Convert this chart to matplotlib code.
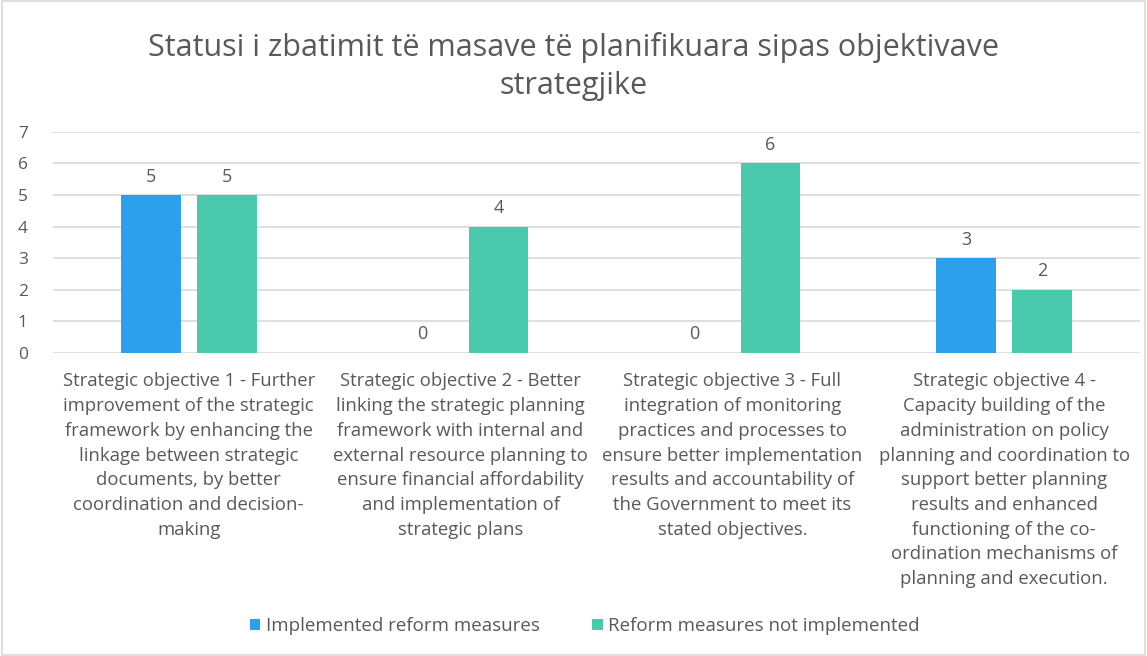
import matplotlib.pyplot as plt
import matplotlib.patches as mpatches
import numpy as np

categories = [
    "Strategic objective 1 - Further\nimprovement of the strategic\nframework by enhancing the\nlinkage between strategic\ndocuments, by better\ncoordination and decision-\nmaking",
    "Strategic objective 2 - Better\nlinking the strategic planning\nframework with internal and\nexternal resource planning to\nensure financial affordability\nand implementation of\nstrategic plans",
    "Strategic objective 3 - Full\nintegration of monitoring\npractices and processes to\nensure better implementation\nresults and accountability of\nthe Government to meet its\nstated objectives.",
    "Strategic objective 4 -\nCapacity building of the\nadministration on policy\nplanning and coordination to\nsupport better planning\nresults and enhanced\nfunctioning of the co-\nordination mechanisms of\nplanning and execution.",
]
implemented = [5, 0, 0, 3]
not_implemented = [5, 4, 6, 2]
series_names = ["Implemented reform measures", "Reform measures not implemented"]
title = "Statusi i zbatimit të masave të planifikuara sipas objektivave\nstrategjike"

def main():
    plt.rcParams['font.family'] = ['Open Sans', 'DejaVu Sans']
    txt = '#595959'
    blue = '#2E9FEA'
    green = '#4BC9AD'

    fig = plt.figure(figsize=(11.47, 6.56), dpi=100)
    fig.patches.append(mpatches.Rectangle((0.002, 0.002), 0.996, 0.996, transform=fig.transFigure,
                                          fill=False, edgecolor='#D9D9D9', lw=1.2))
    ax = fig.add_axes([0.046, 0.462, 0.948, 0.337])

    x = np.arange(len(categories))
    w = 0.22
    off = 0.14
    b1 = ax.bar(x - off, implemented, w, color=blue, label=series_names[0])
    b2 = ax.bar(x + off, not_implemented, w, color=green, label=series_names[1])
    for bars in (b1, b2):
        for r in bars:
            ax.text(r.get_x() + r.get_width() / 2, r.get_height() + 0.3, str(int(r.get_height())),
                    ha='center', va='bottom', fontsize=13, color=txt)

    ax.set_xlim(-0.5, 3.5)
    ax.set_ylim(0, 7)
    ax.set_yticks(range(0, 8))
    ax.yaxis.grid(True, color='#D9D9D9', lw=1.2)
    ax.set_axisbelow(True)
    for s in ax.spines.values():
        s.set_visible(False)
    ax.tick_params(axis='y', length=0, labelsize=12.5, labelcolor=txt, pad=18)
    ax.tick_params(axis='x', length=0)
    ax.set_xticks(x)
    ax.set_xticklabels(categories, fontsize=13.3, color=txt, linespacing=1.48)
    for lab in ax.get_xticklabels():
        lab.set_horizontalalignment('center')
    ax.tick_params(axis='x', pad=14)

    fig.text(0.5, 0.899, title, ha='center', va='center', fontsize=22, color=txt, linespacing=1.33)

    fig.legend(handles=[b1, b2], loc='center', bbox_to_anchor=(0.51, 0.045), ncol=2, frameon=False,
               fontsize=13.5, labelcolor=txt, handlelength=0.55, handleheight=0.55, handletextpad=0.3,
               columnspacing=2.8)

    fig.savefig('out.png', dpi=100)


if __name__ == '__main__':
    main()
